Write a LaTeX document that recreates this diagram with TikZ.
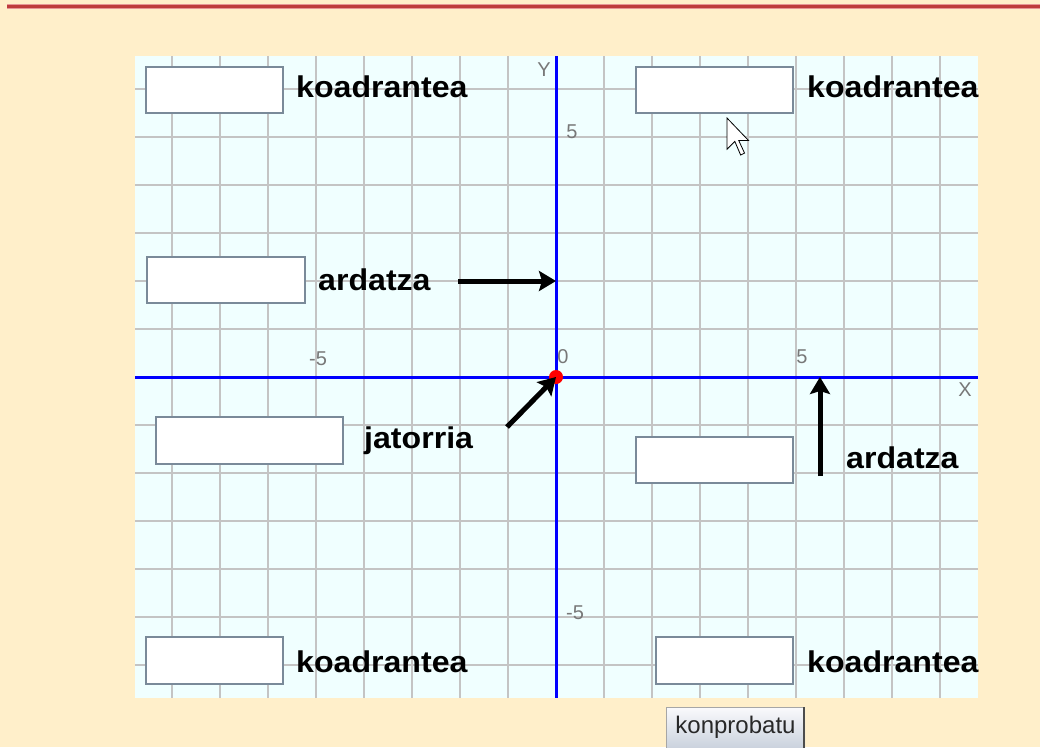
\documentclass[tikz,border=0pt]{standalone}
\usepackage{fontspec}
\setmainfont{Liberation Sans}
\newfontfamily\lblfont{Liberation Sans}[FakeStretch=1.07]
\usetikzlibrary{arrows.meta}
\definecolor{pagebg}{RGB}{255,239,202}
\definecolor{gridbg}{RGB}{240,255,255}
\definecolor{gridline}{RGB}{196,196,196}
\definecolor{axisblue}{RGB}{0,0,255}
\definecolor{topred}{RGB}{190,60,60}
\definecolor{toppink}{RGB}{230,150,150}
\definecolor{boxborder}{RGB}{122,138,153}
\definecolor{ticklbl}{RGB}{120,120,120}
\definecolor{btntop}{RGB}{250,250,252}
\definecolor{btnbot}{RGB}{200,208,220}
\tikzset{
  inbox/.style={draw=boxborder, line width=1.5pt, fill=white},
  lbl/.style={font=\lblfont\bfseries\fontsize{30}{30}\selectfont, inner sep=0pt, anchor=base west},
  tlbl/.style={font=\fontsize{20}{20}\selectfont, text=ticklbl, inner sep=0pt},
  pointer/.style={line width=5pt, -{Stealth[length=17pt,width=20pt,inset=3pt]}}
}
\begin{document}
\begin{tikzpicture}[x=1pt,y=-1pt]
\useasboundingbox (0,0) rectangle (1040,747);
\fill[pagebg] (0,0) rectangle (1040,747);
% top line
\fill[toppink] (7,4) rectangle (1040,9);
\fill[topred] (7,5) rectangle (1040,8);
% grid area
\fill[gridbg] (135,56) rectangle (978,698);
\foreach \k in {-8,...,8} {
  \draw[gridline, line width=2pt] ({556+48*\k},56) -- ({556+48*\k},698);
}
\foreach \k in {-6,...,6} {
  \draw[gridline, line width=2pt] (135,{377+48*\k}) -- (978,{377+48*\k});
}
% axes
\coordinate (xl) at (135,377);
\coordinate (xr) at (978,377);
\coordinate (yt) at (556,56);
\coordinate (yb) at (556,698);
\draw[axisblue, line width=3pt] (xl) -- (xr);
\draw[axisblue, line width=3pt] (yt) -- (yb);
% axis labels
\node[tlbl] (lY) at (544,70) {Y};
\node[tlbl] (lX) at (965,390) {X};
\node[tlbl] (ly5) at (572,132) {5};
\node[tlbl] (lym5) at (575,613) {-5};
\node[tlbl] (lx5) at (802,357) {5};
\node[tlbl] (lxm5) at (318,359) {-5};
\node[tlbl] (l0) at (563,357) {0};
% origin
\node[circle, fill=red, minimum size=14pt, inner sep=0pt] (origin) at (556,377) {};
% input boxes
\node[inbox, minimum width=137pt, minimum height=46pt, inner sep=0pt] (b1) at (214.5,90) {};
\node[inbox, minimum width=157pt, minimum height=46pt, inner sep=0pt] (b2) at (714.5,90) {};
\node[inbox, minimum width=158pt, minimum height=46pt, inner sep=0pt] (b3) at (226,280) {};
\node[inbox, minimum width=187pt, minimum height=47pt, inner sep=0pt] (b4) at (249.5,440.5) {};
\node[inbox, minimum width=157pt, minimum height=46pt, inner sep=0pt] (b5) at (714.5,460) {};
\node[inbox, minimum width=137pt, minimum height=47pt, inner sep=0pt] (b6) at (214.5,660.5) {};
\node[inbox, minimum width=137pt, minimum height=47pt, inner sep=0pt] (b7) at (724.5,660.5) {};
% labels
\node[lbl] (t1) at (296,97) {koadrantea};
\node[lbl] (t2) at (807,97) {koadrantea};
\node[lbl] (t3) at (318,290) {ardatza};
\node[lbl] (t4) at (364,448) {jatorria};
\node[lbl] (t5) at (846,468) {ardatza};
\node[lbl] (t6) at (296,672) {koadrantea};
\node[lbl] (t7) at (807,672) {koadrantea};
% arrows
\coordinate (a1s) at (458,281);
\coordinate (a1e) at (556,281);
\draw[pointer] (a1s) -- (a1e);
\coordinate (a2s) at (507,427);
\draw[pointer] (a2s) -- (origin.center);
\coordinate (a3s) at (820,476);
\coordinate (a3e) at (820,377);
\draw[pointer] (a3s) -- (a3e);
% mouse cursor
\begin{scope}[shift={(727,118)}, scale=1.95]
\draw[fill=white, line width=0.8pt, line join=miter] (0,0) -- (0,16) -- (4,12) -- (7,19) -- (9,18) -- (6,11.5) -- (11,11.5) -- cycle;
\end{scope}
% button
\shade[top color=btntop, bottom color=btnbot] (666,707) rectangle (805,750);
\draw[gray!70, line width=1pt] (666,750) -- (666,707) -- (805,707);
\draw[black!70, line width=2pt] (804,707) -- (804,750);
\node[font=\fontsize{24}{24}\selectfont, text={rgb,255:red,40;green,40;blue,40}, inner sep=0pt, anchor=base] (btn) at (735.5,733) {konprobatu};
\end{tikzpicture}
\end{document}
